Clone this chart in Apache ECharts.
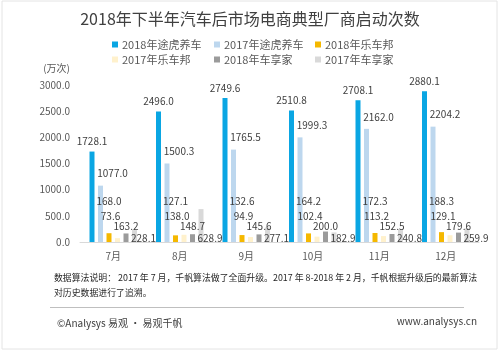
<!DOCTYPE html>
<html>
<head>
<meta charset="utf-8">
<script src="https://cdn.jsdelivr.net/npm/echarts@6/dist/echarts.min.js"></script>
<style>
  html, body { margin: 0; padding: 0; background: #fff; }
  #chart { width: 500px; height: 353px; }
</style>
</head>
<body>
<div id="chart"></div>
<script>
// données
const months = ["7月", "8月", "9月", "10月", "11月", "12月"];
const tuhu2018 = [1728.1, 2496.0, 2749.6, 2510.8, 2708.1, 2880.1];
const tuhu2017 = [1077.0, 1500.3, 1765.5, 1999.3, 2162.0, 2204.2];
const lcb2018 = [168.0, 127.1, 132.6, 164.2, 172.3, 188.3];
const lcb2017 = [73.6, 138.0, 94.9, 102.4, 113.2, 129.1];
const cxj2018 = [163.2, 148.7, 145.6, 200.0, 152.5, 179.6];
const cxj2017 = [228.1, 628.9, 277.1, 182.9, 240.8, 259.9];
const seriesNames = ["2018年途虎养车", "2017年途虎养车", "2018年乐车邦", "2017年乐车邦", "2018年车享家", "2017年车享家"];
const seriesData = [tuhu2018, tuhu2017, lcb2018, lcb2017, cxj2018, cxj2017];
const colors = ["#0aa6e3", "#bdd7ee", "#f5b800", "#fff1cc", "#9b9b9b", "#d9d9d9"];

const FONT = "'Noto Sans CJK SC', 'Noto Sans', sans-serif";

// position des étiquettes (comme dans l'original, décalées à la main)
const labelStyles = [
  { position: "top", offset: [0, 0] },
  { position: "top", offset: [12, -2] },
  { position: "insideBottom", distance: 0, offset: [0, -36] },
  { position: "insideBottom", distance: 0, offset: [-7, -21] },
  { position: "insideBottom", distance: 0, offset: [0, -11] },
  { position: "insideBottom", distance: 0, offset: [9, 1] },
];

// légende en grille 3 x 2
const legendCols = [107, 209, 310];
const legendRows = [34, 49];

const chart = echarts.init(document.getElementById("chart"));

chart.setOption({
  backgroundColor: "#fff",
  color: colors,
  animation: false,
  title: {
    text: "2018年下半年汽车后市场电商典型厂商启动次数",
    left: "center",
    top: 6,
    textStyle: { fontFamily: FONT, fontSize: 16, fontWeight: "normal", color: "#404040" },
  },
  legend: seriesNames.map((name, i) => ({
    left: legendCols[i % 3],
    top: legendRows[Math.floor(i / 3)],
    data: [name],
    itemWidth: 6,
    itemHeight: 6,
    itemGap: 0,
    icon: "rect",
    textStyle: { fontFamily: FONT, fontSize: 11, color: "#595959", padding: [0, 0, 0, -1] },
  })),
  grid: { left: 80, right: 21, top: 85, bottom: 111 },
  xAxis: {
    type: "category",
    data: months,
    axisLine: { lineStyle: { color: "#d9d9d9" } },
    axisTick: { show: false },
    axisLabel: { fontFamily: FONT, fontSize: 10, color: "#595959", margin: 9 },
  },
  yAxis: {
    type: "value",
    min: 0,
    max: 3000,
    interval: 500,
    name: "(万次)",
    nameGap: 12,
    nameTextStyle: { fontFamily: FONT, fontSize: 10, color: "#595959", align: "right", padding: [0, 10, 0, 0] },
    axisLine: { show: false },
    axisTick: { show: false },
    splitLine: { show: false },
    axisLabel: {
      fontFamily: FONT, fontSize: 10, color: "#595959", margin: 10,
      formatter: (v) => v.toFixed(1),
    },
  },
  series: seriesNames.map((name, i) => ({
    name,
    type: "bar",
    data: seriesData[i],
    barWidth: 5,
    barGap: "70%",
    label: Object.assign({
      show: true,
      fontFamily: FONT,
      fontSize: 10,
      color: "#404040",
      formatter: (p) => p.value.toFixed(1),
    }, labelStyles[i]),
  })),
  graphic: [
    {
      type: "rect",
      shape: { x: 2, y: 1, width: 495, height: 348 },
      style: { fill: "none", stroke: "#e4e4e4", lineWidth: 1 },
      silent: true,
    },
    {
      type: "text",
      left: 54,
      top: 270,
      style: {
        text: "数据算法说明： 2017 年 7 月，千帆算法做了全面升级。2017 年 8-2018 年 2 月，千帆根据升级后的最新算法\n对历史数据进行了追溯。",
        font: "8.9px " + FONT,
        fill: "#262626",
        lineHeight: 15,
      },
    },
    {
      type: "line",
      shape: { x1: 50, y1: 307.5, x2: 464, y2: 307.5 },
      style: { stroke: "#bfbfbf", lineWidth: 1 },
    },
    {
      type: "text",
      left: 57,
      top: 318,
      style: { text: "©Analysys 易观 · 易观千帆", font: "10px " + FONT, fill: "#404040" },
    },
    {
      type: "text",
      right: 23,
      top: 316,
      style: { text: "www.analysys.cn", font: "10px " + FONT, fill: "#404040" },
    },
  ],
});
</script>
</body>
</html>
